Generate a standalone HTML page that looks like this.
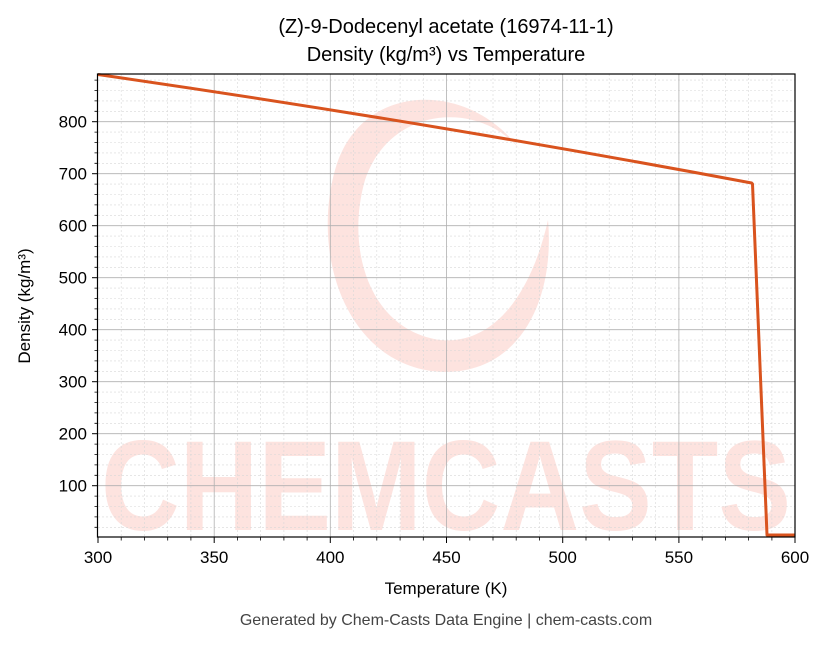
<!DOCTYPE html>
<html><head><meta charset="utf-8"><style>
body{margin:0;background:#fff;}
text{font-family:"Liberation Sans","DejaVu Sans",sans-serif;}
</style></head><body>
<svg width="830" height="644" xmlns="http://www.w3.org/2000/svg">
<rect width="830" height="644" fill="#fff"/>
<g opacity="0.9">
<path d="M520,150 C470,80 360,80 335,170 C310,260 350,370 445,372 C520,372 555,300 548,220 C530,300 490,345 440,340 C370,330 345,250 365,180 C390,105 480,100 520,150 Z" fill="#fde0dc"/>
<text x="446" y="530" font-size="128" font-weight="bold" fill="#fde0dc" text-anchor="middle" textLength="690" lengthAdjust="spacingAndGlyphs">CHEMCASTS</text>
</g>
<g id="grid">
<g stroke="#d8d8d8" stroke-width="0.6" stroke-dasharray="2,2">
<line x1="121.2" y1="74" x2="121.2" y2="537"/><line x1="144.5" y1="74" x2="144.5" y2="537"/><line x1="167.7" y1="74" x2="167.7" y2="537"/><line x1="190.9" y1="74" x2="190.9" y2="537"/>
<line x1="237.4" y1="74" x2="237.4" y2="537"/><line x1="260.6" y1="74" x2="260.6" y2="537"/><line x1="283.9" y1="74" x2="283.9" y2="537"/><line x1="307.1" y1="74" x2="307.1" y2="537"/>
<line x1="353.6" y1="74" x2="353.6" y2="537"/><line x1="376.8" y1="74" x2="376.8" y2="537"/><line x1="400.1" y1="74" x2="400.1" y2="537"/><line x1="423.3" y1="74" x2="423.3" y2="537"/>
<line x1="469.8" y1="74" x2="469.8" y2="537"/><line x1="493" y1="74" x2="493" y2="537"/><line x1="516.2" y1="74" x2="516.2" y2="537"/><line x1="539.5" y1="74" x2="539.5" y2="537"/>
<line x1="586" y1="74" x2="586" y2="537"/><line x1="609.2" y1="74" x2="609.2" y2="537"/><line x1="632.4" y1="74" x2="632.4" y2="537"/><line x1="655.7" y1="74" x2="655.7" y2="537"/>
<line x1="702.2" y1="74" x2="702.2" y2="537"/><line x1="725.4" y1="74" x2="725.4" y2="537"/><line x1="748.6" y1="74" x2="748.6" y2="537"/><line x1="771.9" y1="74" x2="771.9" y2="537"/>
</g>
<g stroke="#d8d8d8" stroke-width="0.6" stroke-dasharray="2,2">
<line x1="98" x2="795" y1="527.3" y2="527.3"/><line x1="98" x2="795" y1="516.9" y2="516.9"/><line x1="98" x2="795" y1="506.5" y2="506.5"/><line x1="98" x2="795" y1="496.1" y2="496.1"/>
<line x1="98" x2="795" y1="475.3" y2="475.3"/><line x1="98" x2="795" y1="464.9" y2="464.9"/><line x1="98" x2="795" y1="454.5" y2="454.5"/><line x1="98" x2="795" y1="444.1" y2="444.1"/>
<line x1="98" x2="795" y1="423.3" y2="423.3"/><line x1="98" x2="795" y1="412.9" y2="412.9"/><line x1="98" x2="795" y1="402.5" y2="402.5"/><line x1="98" x2="795" y1="392.1" y2="392.1"/>
<line x1="98" x2="795" y1="371.3" y2="371.3"/><line x1="98" x2="795" y1="360.9" y2="360.9"/><line x1="98" x2="795" y1="350.5" y2="350.5"/><line x1="98" x2="795" y1="340.1" y2="340.1"/>
<line x1="98" x2="795" y1="319.3" y2="319.3"/><line x1="98" x2="795" y1="308.9" y2="308.9"/><line x1="98" x2="795" y1="298.5" y2="298.5"/><line x1="98" x2="795" y1="288.1" y2="288.1"/>
<line x1="98" x2="795" y1="267.3" y2="267.3"/><line x1="98" x2="795" y1="256.9" y2="256.9"/><line x1="98" x2="795" y1="246.5" y2="246.5"/><line x1="98" x2="795" y1="236.1" y2="236.1"/>
<line x1="98" x2="795" y1="215.3" y2="215.3"/><line x1="98" x2="795" y1="204.9" y2="204.9"/><line x1="98" x2="795" y1="194.5" y2="194.5"/><line x1="98" x2="795" y1="184.1" y2="184.1"/>
<line x1="98" x2="795" y1="163.3" y2="163.3"/><line x1="98" x2="795" y1="152.9" y2="152.9"/><line x1="98" x2="795" y1="142.5" y2="142.5"/><line x1="98" x2="795" y1="132.1" y2="132.1"/>
<line x1="98" x2="795" y1="111.3" y2="111.3"/><line x1="98" x2="795" y1="100.9" y2="100.9"/><line x1="98" x2="795" y1="90.5" y2="90.5"/><line x1="98" x2="795" y1="80.1" y2="80.1"/>
</g>
<g stroke="#b0b0b0" stroke-width="0.8">
<line x1="214.2" y1="74" x2="214.2" y2="537"/><line x1="330.3" y1="74" x2="330.3" y2="537"/><line x1="446.5" y1="74" x2="446.5" y2="537"/><line x1="562.7" y1="74" x2="562.7" y2="537"/><line x1="678.9" y1="74" x2="678.9" y2="537"/>
<line x1="98" x2="795" y1="485.7" y2="485.7"/><line x1="98" x2="795" y1="433.7" y2="433.7"/><line x1="98" x2="795" y1="381.7" y2="381.7"/><line x1="98" x2="795" y1="329.7" y2="329.7"/><line x1="98" x2="795" y1="277.7" y2="277.7"/><line x1="98" x2="795" y1="225.7" y2="225.7"/><line x1="98" x2="795" y1="173.7" y2="173.7"/><line x1="98" x2="795" y1="121.7" y2="121.7"/>
</g>
</g>
<path d="M98,74.5 Q424.8,121.7 751.6,183 L752.5,184 L767,535 L795,535" fill="none" stroke="#d9531e" stroke-width="3" stroke-linejoin="round"/>
<rect x="97.5" y="74" width="697.5" height="463" fill="none" stroke="#000" stroke-width="1.2"/>
<g stroke="#000" stroke-width="1">
<line x1="98" y1="537" x2="98" y2="543"/><line x1="214.2" y1="537" x2="214.2" y2="543"/><line x1="330.3" y1="537" x2="330.3" y2="543"/><line x1="446.5" y1="537" x2="446.5" y2="543"/><line x1="562.7" y1="537" x2="562.7" y2="543"/><line x1="678.9" y1="537" x2="678.9" y2="543"/><line x1="795" y1="537" x2="795" y2="543"/>
<line x1="92" x2="98" y1="485.7" y2="485.7"/><line x1="92" x2="98" y1="433.7" y2="433.7"/><line x1="92" x2="98" y1="381.7" y2="381.7"/><line x1="92" x2="98" y1="329.7" y2="329.7"/><line x1="92" x2="98" y1="277.7" y2="277.7"/><line x1="92" x2="98" y1="225.7" y2="225.7"/><line x1="92" x2="98" y1="173.7" y2="173.7"/><line x1="92" x2="98" y1="121.7" y2="121.7"/>
</g>
<g stroke="#000" stroke-width="0.8">
<path d="M121.2,537v3.5M144.5,537v3.5M167.7,537v3.5M190.9,537v3.5M237.4,537v3.5M260.6,537v3.5M283.9,537v3.5M307.1,537v3.5M353.6,537v3.5M376.8,537v3.5M400.1,537v3.5M423.3,537v3.5M469.8,537v3.5M493,537v3.5M516.2,537v3.5M539.5,537v3.5M586,537v3.5M609.2,537v3.5M632.4,537v3.5M655.7,537v3.5M702.2,537v3.5M725.4,537v3.5M748.6,537v3.5M771.9,537v3.5"/>
<path d="M94.5,527.3h3.5M94.5,516.9h3.5M94.5,506.5h3.5M94.5,496.1h3.5M94.5,475.3h3.5M94.5,464.9h3.5M94.5,454.5h3.5M94.5,444.1h3.5M94.5,423.3h3.5M94.5,412.9h3.5M94.5,402.5h3.5M94.5,392.1h3.5M94.5,371.3h3.5M94.5,360.9h3.5M94.5,350.5h3.5M94.5,340.1h3.5M94.5,319.3h3.5M94.5,308.9h3.5M94.5,298.5h3.5M94.5,288.1h3.5M94.5,267.3h3.5M94.5,256.9h3.5M94.5,246.5h3.5M94.5,236.1h3.5M94.5,215.3h3.5M94.5,204.9h3.5M94.5,194.5h3.5M94.5,184.1h3.5M94.5,163.3h3.5M94.5,152.9h3.5M94.5,142.5h3.5M94.5,132.1h3.5M94.5,111.3h3.5M94.5,100.9h3.5M94.5,90.5h3.5M94.5,80.1h3.5"/>
</g>
<g font-size="17" fill="#000">
<g text-anchor="middle">
<text x="98" y="563">300</text><text x="214.2" y="563">350</text><text x="330.3" y="563">400</text><text x="446.5" y="563">450</text><text x="562.7" y="563">500</text><text x="678.9" y="563">550</text><text x="795" y="563">600</text>
</g>
<g text-anchor="end">
<text x="87" y="491.5">100</text><text x="87" y="439.5">200</text><text x="87" y="387.5">300</text><text x="87" y="335.5">400</text><text x="87" y="283.5">500</text><text x="87" y="231.5">600</text><text x="87" y="179.5">700</text><text x="87" y="127.5">800</text>
</g>
<text x="446" y="594" text-anchor="middle">Temperature (K)</text>
<text transform="translate(30,306) rotate(-90)" text-anchor="middle">Density (kg/m³)</text>
</g>
<text x="446" y="33" font-size="20" text-anchor="middle">(Z)-9-Dodecenyl acetate (16974-11-1)</text>
<text x="446" y="61" font-size="20" text-anchor="middle">Density (kg/m³) vs Temperature</text>
<text x="446" y="625" font-size="16" fill="#444" text-anchor="middle">Generated by Chem-Casts Data Engine | chem-casts.com</text>
</svg>
</body></html>
